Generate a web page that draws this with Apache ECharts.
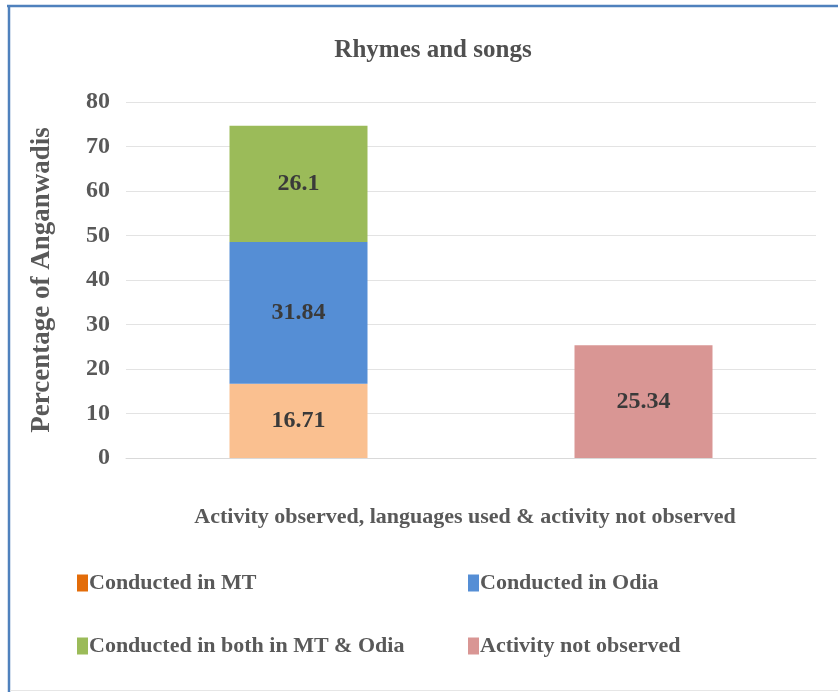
<!DOCTYPE html>
<html>
<head>
<meta charset="utf-8">
<script src="https://cdn.jsdelivr.net/npm/echarts@6/dist/echarts.min.js"></script>
<style>
html,body{margin:0;padding:0;background:#fff;}
#c{width:838px;height:692px;}
</style>
</head>
<body>
<div id="c"></div>
<script>
const categories = ["Activity observed", "Activity not observed"];
const seriesNames = ["Conducted in MT", "Conducted in Odia", "Conducted in both in MT & Odia", "Activity not observed"];
const mtValues = [16.71, "-"];
const odiaValues = [31.84, "-"];
const bothValues = [26.1, "-"];
const notObservedValues = ["-", 25.34];
const yTicks = [0, 10, 20, 30, 40, 50, 60, 70, 80];

const FONT = "'Liberation Serif', 'Times New Roman', serif";
const barColors = ["#FAC090", "#558ED5", "#9BBB59", "#D99694"];
const legendColors = ["#E36C09", "#558ED5", "#9BBB59", "#D99694"];
const legendPos = [[72, 567], [463, 567], [72, 630], [463, 630]];

const chart = echarts.init(document.getElementById('c'), null, {renderer: 'canvas'});

const labelCfg = {
  show: true, position: 'inside', color: '#3A3A3A',
  fontFamily: FONT, fontWeight: 'bold', fontSize: 24,
  formatter: p => String(p.value)
};

const dataSets = [mtValues, odiaValues, bothValues, notObservedValues];

const option = {
  backgroundColor: '#fff',
  animation: false,
  title: {
    text: 'Rhymes and songs',
    left: 428, top: 33, textAlign: 'center',
    textStyle: {fontFamily: FONT, fontWeight: 'bold', fontSize: 25, color: '#505050'}
  },
  legend: seriesNames.map((n, i) => ({
    data: [{name: n, itemStyle: {color: legendColors[i]}}],
    left: legendPos[i][0], top: legendPos[i][1],
    itemWidth: 11, itemHeight: 17, itemGap: 0,
    icon: 'rect',
    textStyle: {fontFamily: FONT, fontWeight: 'bold', fontSize: 22, color: '#595959', padding: [0, 0, 0, -4]},
    selectedMode: false
  })),
  grid: {left: 126, right: 22, top: 102, bottom: 692 - 458},
  xAxis: {
    type: 'category', data: categories,
    name: 'Activity observed, languages used & activity not observed',
    nameLocation: 'middle', nameGap: 48,
    nameTextStyle: {fontFamily: FONT, fontWeight: 'bold', fontSize: 22, color: '#595959', padding: [0, 12, 0, 0]},
    axisLine: {lineStyle: {color: '#D9D9D9', width: 1}},
    axisTick: {show: false},
    axisLabel: {show: false}
  },
  yAxis: {
    type: 'value', min: yTicks[0], max: yTicks[yTicks.length - 1], interval: 10,
    name: 'Percentage of Anganwadis',
    nameLocation: 'middle', nameGap: 70, nameRotate: 90,
    nameTextStyle: {fontFamily: FONT, fontWeight: 'bold', fontSize: 27, color: '#595959'},
    axisLine: {show: false}, axisTick: {show: false},
    axisLabel: {margin: 16, fontFamily: FONT, fontWeight: 'bold', fontSize: 24, color: '#595959'},
    splitLine: {lineStyle: {color: '#E3E3E3', width: 1.2}}
  },
  series: seriesNames.map((n, i) => ({
    name: n, type: 'bar', stack: 'total', barWidth: 138,
    data: dataSets[i],
    itemStyle: {color: barColors[i]},
    label: labelCfg
  })),
  graphic: [
    {type: 'line', shape: {x1: 7, y1: 6, x2: 838, y2: 6}, style: {stroke: '#4F81BD', lineWidth: 2.5}},
    {type: 'line', shape: {x1: 9, y1: 5, x2: 9, y2: 692}, style: {stroke: '#4F81BD', lineWidth: 2.5}},
    {type: 'line', shape: {x1: 10, y1: 690.5, x2: 838, y2: 690.5}, style: {stroke: '#E6E6E6', lineWidth: 1}}
  ]
};
chart.setOption(option);
</script>
</body>
</html>
